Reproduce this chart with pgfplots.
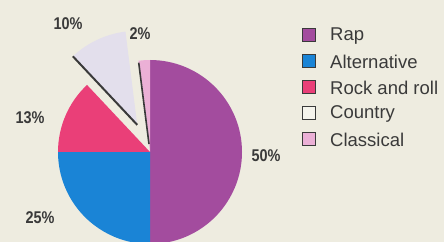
\documentclass[border=0pt]{standalone}
\usepackage{pgfplots}
\pgfplotsset{compat=1.18}
\usepackage{pgfplotstable}
\usepackage{fontspec}
\setmainfont{Liberation Sans}
\definecolor{bgc}{HTML}{EEECE0}
\definecolor{rapc}{HTML}{A34C9E}
\definecolor{altc}{HTML}{1A84D6}
\definecolor{rockc}{HTML}{EA3F78}
\definecolor{countryc}{HTML}{E3DFEC}
\definecolor{classc}{HTML}{EBB0D6}
\definecolor{txtc}{HTML}{3A3A3A}

\pgfplotstableread{
genre value
Rap 50
Alternative 25
Rock 13
Country 10
Classical 2
}\piedata

\begin{document}%
\begin{tikzpicture}
\pgfplotstablegetelem{0}{value}\of\piedata \let\vA\pgfplotsretval
\pgfplotstablegetelem{1}{value}\of\piedata \let\vB\pgfplotsretval
\pgfplotstablegetelem{2}{value}\of\piedata \let\vC\pgfplotsretval
\pgfplotstablegetelem{3}{value}\of\piedata \let\vD\pgfplotsretval
\pgfplotstablegetelem{4}{value}\of\piedata \let\vE\pgfplotsretval
\pgfmathsetmacro\aA{90}
\pgfmathsetmacro\aB{\aA-3.6*\vA}
\pgfmathsetmacro\aC{\aB-3.6*\vB}
\pgfmathsetmacro\aD{\aC-3.6*\vC}
\pgfmathsetmacro\aE{\aD-3.6*\vD}
\pgfmathsetmacro\aF{\aE-3.6*\vE}
\pgfmathsetmacro\mD{(\aD+\aE)/2}
\pgfmathsetmacro\cDx{150+30*cos(\mD)}
\pgfmathsetmacro\cDy{90+30*sin(\mD)}
\begin{axis}[scale only axis, width=444bp, height=242bp,
  xmin=0, xmax=444, ymin=0, ymax=242, hide axis, clip=true]
\coordinate (BL) at (rel axis cs:0,0);
\coordinate (TR) at (rel axis cs:1,1);
\fill[bgc] (axis cs:0,0) rectangle (axis cs:444,242);
% pie wedges
\fill[rapc] (axis cs:150,90) -- ++(\aA:92bp) arc[start angle=\aA, end angle=\aB, radius=92bp] -- cycle;
\fill[altc] (axis cs:150,90) -- ++(\aB:92bp) arc[start angle=\aB, end angle=\aC, radius=92bp] -- cycle;
\fill[rockc] (axis cs:150,90) -- ++(\aC:92bp) arc[start angle=\aC, end angle=\aD, radius=92bp] -- cycle;
\fill[classc] (axis cs:150,90) -- ++(\aE:92bp) arc[start angle=\aE, end angle=\aF, radius=92bp] -- cycle;
\fill[countryc] (axis cs:\cDx,\cDy) -- ++(\aD:94bp) arc[start angle=\aD, end angle=\aE, radius=94bp] -- cycle;
\draw[txtc, line width=2bp] (axis cs:\cDx,\cDy) -- ++(\aD:94bp);
\draw[txtc, line width=1.6bp] (axis cs:150,90) ++(\aE:8bp) -- ++(\aE:82bp);
% percentage labels
\begin{scope}[every node/.style={font=\fontsize{17bp}{19bp}\selectfont\bfseries, text=txtc, inner sep=0pt, xscale=0.85}]
\node at (axis cs:68,218) {\vD\%};
\node at (axis cs:140,208) {\vE\%};
\node at (axis cs:30,124) {\vC\%};
\node at (axis cs:40,24) {\vB\%};
\node at (axis cs:266,86) {\vA\%};
\end{scope}
% legend
\begin{scope}[every node/.style={font=\fontsize{18.5bp}{20bp}\selectfont, text=txtc, inner sep=0pt, anchor=west}]
\filldraw[fill=rapc, draw=txtc, line width=0.8bp] (axis cs:302,201) rectangle (axis cs:315,214);
\node at (axis cs:330,206) {Rap};
\filldraw[fill=altc, draw=txtc, line width=0.8bp] (axis cs:302,175) rectangle (axis cs:315,188);
\node at (axis cs:330,180) {Alternative};
\filldraw[fill=rockc, draw=txtc, line width=0.8bp] (axis cs:302,149) rectangle (axis cs:315,162);
\node at (axis cs:330,154) {Rock and roll};
\filldraw[fill=bgc!60!white, draw=txtc, line width=0.8bp] (axis cs:302,123) rectangle (axis cs:315,136);
\node at (axis cs:330,128) {Country};
\filldraw[fill=classc, draw=txtc, line width=0.8bp] (axis cs:302,97) rectangle (axis cs:315,110);
\node at (axis cs:330,102) {Classical};
\end{scope}
\end{axis}
\pgfresetboundingbox
\useasboundingbox (BL) rectangle (TR);
\end{tikzpicture}%
\end{document}
